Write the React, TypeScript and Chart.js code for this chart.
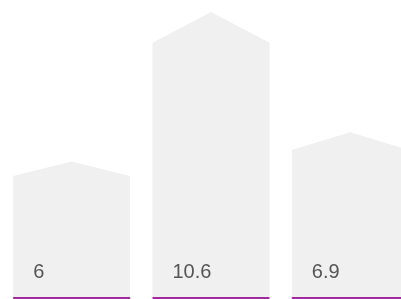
import React, { useEffect, useRef } from "react";
import { Chart, registerables } from "chart.js";

Chart.register(...registerables);

const categories = ["A", "B", "C"];
const values = [6, 10.6, 6.9];
const valueLabels = ["6", "10.6", "6.9"];

const houseBars = {
  id: "houseBars",
  afterDatasetsDraw(chart: any) {
    const ctx = chart.ctx;
    const meta = chart.getDatasetMeta(0);
    const base = chart.scales.y.bottom;
    meta.data.forEach((bar: any, i: number) => {
      const { x, y, width } = bar.getProps(["x", "y", "width"], true);
      const left = x - width / 2;
      const right = x + width / 2;
      const peak = y - 0.12 * (base - y);
      ctx.save();
      ctx.fillStyle = "#f0f0f0";
      ctx.beginPath();
      ctx.moveTo(left, base);
      ctx.lineTo(left, y);
      ctx.lineTo(x, peak);
      ctx.lineTo(right, y);
      ctx.lineTo(right, base);
      ctx.closePath();
      ctx.fill();
      ctx.fillStyle = "#a3299f";
      ctx.fillRect(left, base, width, 2);
      ctx.fillStyle = "#555555";
      ctx.font = "20px 'Liberation Sans', Arial, sans-serif";
      ctx.textAlign = "left";
      ctx.textBaseline = "alphabetic";
      ctx.fillText(valueLabels[i], left + 20, base - 19);
      ctx.restore();
    });
  },
};

export default function App() {
  const ref = useRef<HTMLCanvasElement>(null);
  useEffect(() => {
    if (!ref.current) return;
    const chart = new Chart(ref.current, {
      type: "bar",
      data: {
        labels: categories,
        datasets: [
          {
            data: values,
            backgroundColor: "rgba(0,0,0,0)",
            borderWidth: 0,
            barPercentage: 0.84,
            categoryPercentage: 1,
          },
        ],
      },
      options: {
        responsive: false,
        animation: false,
        layout: { padding: { left: 2, right: 2, top: 0, bottom: 2 } },
        plugins: { legend: { display: false }, tooltip: { enabled: false } },
        scales: {
          x: { display: false },
          y: { display: false, min: 1.83, max: 12.07 },
        },
      },
      plugins: [houseBars],
    });
    return () => chart.destroy();
  }, []);
  return (
    <div
      style={{
        position: "fixed",
        top: 0,
        left: 0,
        width: 401,
        height: 299,
        overflow: "hidden",
        background: "#fff",
      }}
    >
      <canvas ref={ref} width={422} height={299} style={{ display: "block", width: 422, height: 299 }} />
    </div>
  );
}
